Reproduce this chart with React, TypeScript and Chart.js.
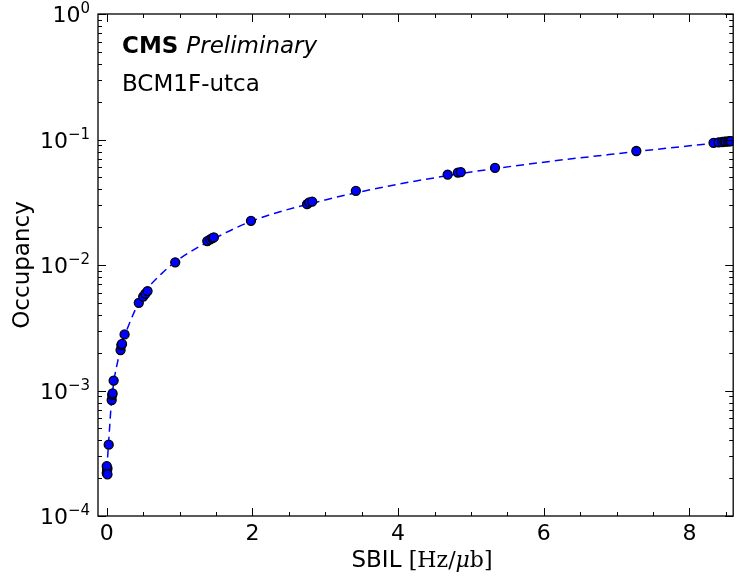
import React, { useEffect, useRef } from "react";
import { Chart, registerables } from "chart.js";

Chart.register(...registerables);

const sbil = [0.0, 0.005, 0.01, 0.0, 0.01, 0.027, 0.068, 0.075, 0.08, 0.095, 0.19, 0.2, 0.21, 0.245, 0.44, 0.5, 0.53, 0.56, 0.94, 1.38, 1.42, 1.45, 1.47, 1.98, 2.75, 2.78, 2.82, 3.42, 4.68, 4.82, 4.86, 5.33, 7.27, 8.33, 8.4, 8.45, 8.48, 8.5, 8.53, 8.55, 8.57];
const occupancy = [2.2e-4, 2.3e-4, 2.4e-4, 2.5e-4, 2.15e-4, 3.7e-4, 8.4e-4, 9.2e-4, 9.5e-4, 1.2e-3, 2.1e-3, 2.3e-3, 2.35e-3, 2.8e-3, 5.0e-3, 5.6e-3, 5.9e-3, 6.2e-3, 1.05e-2, 1.55e-2, 1.6e-2, 1.64e-2, 1.66e-2, 2.25e-2, 3.05e-2, 3.15e-2, 3.2e-2, 3.9e-2, 5.25e-2, 5.45e-2, 5.5e-2, 5.95e-2, 8.1e-2, 9.4e-2, 9.5e-2, 9.55e-2, 9.6e-2, 9.62e-2, 9.65e-2, 9.68e-2, 9.7e-2];

const fitX = [0, 0.03, 0.06, 0.1, 0.15, 0.2, 0.3, 0.5, 0.75, 1, 1.5, 2, 3, 4, 5, 6, 7, 8, 8.57];
const fitY = [2.3e-4, 4.2e-4, 7.5e-4, 1.2e-3, 1.7e-3, 2.25e-3, 3.3e-3, 5.8e-3, 8.5e-3, 1.12e-2, 1.65e-2, 2.25e-2, 3.3e-2, 4.4e-2, 5.5e-2, 6.6e-2, 7.7e-2, 8.9e-2, 9.6e-2];

const xMajorTicks = [0, 2, 4, 6, 8];
const xMinorTicks = [0.5, 1, 1.5, 2.5, 3, 3.5, 4.5, 5, 5.5, 6.5, 7, 7.5, 8.5];
const yMajorTicks = [1e-4, 1e-3, 1e-2, 1e-1, 1];
const yTickExponents = ["−4", "−3", "−2", "−1", "0"];

const FONT = "'DejaVu Sans', sans-serif";
const SERIF = "'DejaVu Serif', serif";

const framePlugin = {
  id: "frame",
  afterDraw(chart: any) {
    const { ctx, chartArea: a, scales } = chart;
    const xs = scales.x;
    const ys = scales.y;
    ctx.save();
    ctx.strokeStyle = "#000";
    ctx.lineWidth = 1;
    ctx.beginPath();
    const tick = (x1: number, y1: number, x2: number, y2: number) => {
      ctx.moveTo(x1, y1);
      ctx.lineTo(x2, y2);
    };
    xMajorTicks.forEach((v) => {
      const px = Math.round(xs.getPixelForValue(v)) + 0.5;
      tick(px, a.bottom, px, a.bottom - 8);
      tick(px, a.top, px, a.top + 8);
    });
    xMinorTicks.forEach((v) => {
      const px = Math.round(xs.getPixelForValue(v)) + 0.5;
      tick(px, a.bottom, px, a.bottom - 4);
      tick(px, a.top, px, a.top + 4);
    });
    yMajorTicks.forEach((v) => {
      const py = Math.round(ys.getPixelForValue(v)) + 0.5;
      tick(a.left, py, a.left + 8, py);
      tick(a.right, py, a.right - 8, py);
    });
    for (let e = -4; e < 0; e++) {
      for (let m = 2; m <= 9; m++) {
        const py = Math.round(ys.getPixelForValue(m * Math.pow(10, e))) + 0.5;
        tick(a.left, py, a.left + 4, py);
        tick(a.right, py, a.right - 4, py);
      }
    }
    ctx.stroke();
    ctx.lineWidth = 1.3;
    ctx.strokeRect(a.left, a.top, a.right - a.left, a.bottom - a.top);

    ctx.fillStyle = "#000";
    ctx.textBaseline = "alphabetic";

    yMajorTicks.forEach((v, i) => {
      const py = ys.getPixelForValue(v);
      ctx.textAlign = "right";
      ctx.font = `15px ${FONT}`;
      const exp = yTickExponents[i];
      const we = ctx.measureText(exp).width;
      const right = a.left - 8;
      ctx.fillText(exp, right, py - 1);
      ctx.font = `22px ${FONT}`;
      ctx.fillText("10", right - we, py + 8);
    });

    ctx.textAlign = "left";
    ctx.font = `bold 23px ${FONT}`;
    ctx.fillText("CMS", 122, 53);
    const w = ctx.measureText("CMS ").width;
    ctx.font = `italic 23px ${FONT}`;
    ctx.fillText("Preliminary", 122 + w, 53);
    ctx.font = `23px ${FONT}`;
    ctx.fillText("BCM1F-utca", 122, 91);

    ctx.font = `23px ${FONT}`;
    const p1 = "SBIL ";
    const w1 = ctx.measureText(p1).width;
    ctx.font = `22px ${SERIF}`;
    const p2a = "[Hz/";
    const w2a = ctx.measureText(p2a).width;
    ctx.font = `italic 22px ${SERIF}`;
    const p2b = "μ";
    const w2b = ctx.measureText(p2b).width;
    ctx.font = `22px ${SERIF}`;
    const p2c = "b]";
    const w2c = ctx.measureText(p2c).width;
    const total = w1 + w2a + w2b + w2c;
    let x0 = 422 - total / 2;
    const by = 567;
    ctx.font = `23px ${FONT}`;
    ctx.fillText(p1, x0, by);
    x0 += w1;
    ctx.font = `22px ${SERIF}`;
    ctx.fillText(p2a, x0, by);
    x0 += w2a;
    ctx.font = `italic 22px ${SERIF}`;
    ctx.fillText(p2b, x0, by);
    x0 += w2b;
    ctx.font = `22px ${SERIF}`;
    ctx.fillText(p2c, x0, by);

    ctx.save();
    ctx.translate(29, 265);
    ctx.rotate(-Math.PI / 2);
    ctx.textAlign = "center";
    ctx.font = `23px ${FONT}`;
    ctx.fillText("Occupancy", 0, 0);
    ctx.restore();
    ctx.restore();
  },
};

export default function App() {
  const ref = useRef<HTMLCanvasElement>(null);
  useEffect(() => {
    document.body.style.margin = "0";
    const chart = new Chart(ref.current!, {
      type: "scatter",
      data: {
        datasets: [
          {
            type: "line",
            label: "fit",
            data: fitX.map((x, i) => ({ x, y: fitY[i] })),
            borderColor: "#0000ff",
            borderWidth: 1.5,
            borderDash: [8, 5],
            pointRadius: 0,
            cubicInterpolationMode: "monotone",
            fill: false,
            order: 2,
          } as any,
          {
            label: "data",
            data: sbil.map((x, i) => ({ x, y: occupancy[i] })),
            backgroundColor: "#0000ff",
            borderColor: "#000",
            borderWidth: 1.3,
            pointRadius: 4.5,
            order: 1,
          },
        ],
      },
      options: {
        animation: false,
        responsive: false,
        layout: { padding: { top: 14, right: 1, left: 0, bottom: 0 } },
        plugins: { legend: { display: false }, tooltip: { enabled: false } },
        scales: {
          x: {
            type: "linear",
            min: -0.12,
            max: 8.6,
            grid: { display: false, drawTicks: false },
            border: { display: false },
            afterBuildTicks: (s: any) => {
              s.ticks = xMajorTicks.map((v) => ({ value: v }));
            },
            afterFit: (s: any) => {
              s.height = 62;
            },
            ticks: {
              color: "#000",
              font: { family: FONT, size: 22 },
              padding: 5,
              maxRotation: 0,
              callback: (v: any) => String(v),
            },
          },
          y: {
            type: "logarithmic",
            min: 1e-4,
            max: 1,
            grid: { display: false, drawTicks: false },
            border: { display: false },
            afterBuildTicks: (s: any) => {
              s.ticks = yMajorTicks.map((v) => ({ value: v }));
            },
            afterFit: (s: any) => {
              s.width = 98;
            },
            ticks: {
              display: false,
            },
          },
        },
      },
      plugins: [framePlugin],
    });
    return () => chart.destroy();
  }, []);
  return <canvas ref={ref} width={739} height={578} style={{ display: "block" }} />;
}
